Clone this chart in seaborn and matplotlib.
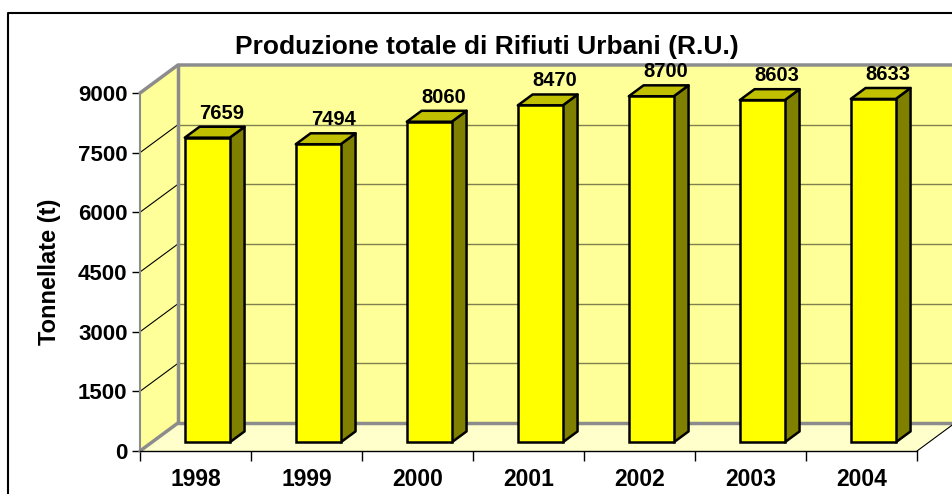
import numpy as np
import pandas as pd
import seaborn as sns
import matplotlib.pyplot as plt
from matplotlib.patches import Polygon
from matplotlib.transforms import Affine2D
from matplotlib.lines import Line2D

# Dati
anni = ['1998', '1999', '2000', '2001', '2002', '2003', '2004']
tonnellate = [7659, 7494, 8060, 8470, 8700, 8603, 8633]
y_ticks = [0, 1500, 3000, 4500, 6000, 7500, 9000]

df = pd.DataFrame({'Anno': anni, 'Tonnellate': tonnellate})

sns.set_style('white')
plt.rcParams['font.family'] = ['Liberation Sans', 'DejaVu Sans']
plt.rcParams['font.weight'] = 'bold'
for k in ['text.color', 'axes.labelcolor', 'xtick.color', 'ytick.color']:
    plt.rcParams[k] = 'black'

fig = plt.figure(figsize=(9.53, 4.94), dpi=100)
W, H = 953, 494
ax = fig.add_axes([140 / W, 43 / H, 777 / W, 358 / H])

YMAX = 9000
# profondità pseudo-3D (in unità dati)
DX, DY = 0.342, 704
f_front, f_back = 0.31, 0.70
bar_w = 0.405

def depth(x, y, f):
    return (x + f * DX, y + f * DY)

x0, x1 = -0.5, len(anni) - 0.5

# pavimento
floor = Polygon([depth(x0, 0, 0), depth(x1, 0, 0), depth(x1, 0, 1), depth(x0, 0, 1)],
                closed=True, facecolor='#FFFFCC', edgecolor='none', zorder=0, clip_on=False)
ax.add_patch(floor)
# parete laterale
side = Polygon([depth(x0, 0, 0), depth(x0, YMAX, 0), depth(x0, YMAX, 1), depth(x0, 0, 1)],
               closed=True, facecolor='#FFFF99', edgecolor='none', zorder=0, clip_on=False)
ax.add_patch(side)
# parete di fondo
back = Polygon([depth(x0, 0, 1), depth(x0, YMAX, 1), depth(x1, YMAX, 1), depth(x1, 0, 1)],
               closed=True, facecolor='#FFFF99', edgecolor='none', zorder=0, clip_on=False)
ax.add_patch(back)

# griglia
for v in y_ticks[1:-1]:
    ax.add_line(Line2D([depth(x0, v, 1)[0], depth(x1, v, 1)[0]], [v + DY, v + DY],
                       color='#7f7f50', lw=1.0, zorder=1, clip_on=False))
for v in y_ticks[1:]:
    ax.add_line(Line2D([x0, x0 + DX], [v, v + DY], color='black', lw=0.8, zorder=1, clip_on=False))

# bordi grigi delle pareti
gray = '#8c8c8c'
ax.add_line(Line2D([x0, x0 + DX, x1 + DX], [YMAX, YMAX + DY, YMAX + DY], color=gray, lw=2.5,
                   zorder=1.2, clip_on=False))
ax.add_line(Line2D([x0 + DX, x0 + DX, x1 + DX], [YMAX + DY, DY, DY], color=gray, lw=2.5,
                   zorder=1.2, clip_on=False))
ax.add_line(Line2D([x0, x0 + DX], [0, DY], color=gray, lw=2.5, zorder=1.2, clip_on=False))
ax.add_line(Line2D([x1, x1 + DX], [0, DY], color='black', lw=0.8, zorder=1.2, clip_on=False))

# barre (faccia frontale)
sns.barplot(data=df, x='Anno', y='Tonnellate', color='#FFFF00', saturation=1,
            width=bar_w, edgecolor='black', linewidth=1.8, ax=ax, zorder=3)
shift = Affine2D().translate(f_front * DX, f_front * DY) + ax.transData
for p in ax.containers[0]:
    p.set_transform(shift)
    p.set_clip_on(False)

# facce laterali e superiori + etichette
d = f_back - f_front
for i, v in enumerate(tonnellate):
    xl = i - bar_w / 2
    xr = i + bar_w / 2
    right = Polygon([depth(xr, 0, f_front), depth(xr + d * DX, d * DY, f_front),
                     depth(xr + d * DX, v + d * DY, f_front), depth(xr, v, f_front)],
                    closed=True, facecolor='#808000', edgecolor='black', lw=1.8, zorder=2.9,
                    clip_on=False, joinstyle='round')
    top = Polygon([depth(xl, v, f_front), depth(xr, v, f_front),
                   depth(xr + d * DX, v + d * DY, f_front), depth(xl + d * DX, v + d * DY, f_front)],
                  closed=True, facecolor='#C0C000', edgecolor='black', lw=1.8, zorder=2.9,
                  clip_on=False, joinstyle='round')
    ax.add_patch(right)
    ax.add_patch(top)
    lx, ly = depth(i, v, f_back)
    ax.annotate(str(v), (lx, ly), xytext=(0, 3), textcoords='offset points',
                ha='center', va='bottom', fontsize=14.5, fontweight='bold',
                annotation_clip=False, zorder=4)

# assi
ax.set_xlim(x0, x1)
ax.set_ylim(0, YMAX)
ax.set_yticks(y_ticks)
ax.set_yticklabels([str(t) for t in y_ticks])
ax.set_xticks(range(len(anni)))
ax.set_xticklabels(anni)
ax.set_xticks(np.arange(x0, x1 + 0.01, 1), minor=True)
ax.tick_params(axis='x', which='major', length=0, pad=12, labelsize=16.5)
ax.tick_params(axis='x', which='minor', length=7, width=1, color='black', direction='out', bottom=True)
ax.tick_params(axis='y', length=6, width=1, color='black', direction='out', left=True, labelsize=16, pad=3)
ax.set_xlabel('')
ax.set_ylabel('Tonnellate (t)', fontsize=17, fontweight='bold', labelpad=12)
for s in ['top', 'right']:
    ax.spines[s].set_visible(False)
ax.spines['bottom'].set_color('black')
ax.spines['bottom'].set_linewidth(1)
ax.spines['left'].set_color(gray)
ax.spines['left'].set_linewidth(1.5)
ax.patch.set_alpha(0)

fig.text(487 / W, 1 - 47 / H, 'Produzione totale di Rifiuti Urbani (R.U.)', ha='center', va='center',
         fontsize=19, fontweight='bold')

# cornice del grafico
fig.add_artist(Line2D([8 / W, 8 / W, 1], [0, 1 - 13 / H, 1 - 13 / H], color='black', lw=1.5,
                      transform=fig.transFigure))

fig.savefig('out.png', dpi=100)
